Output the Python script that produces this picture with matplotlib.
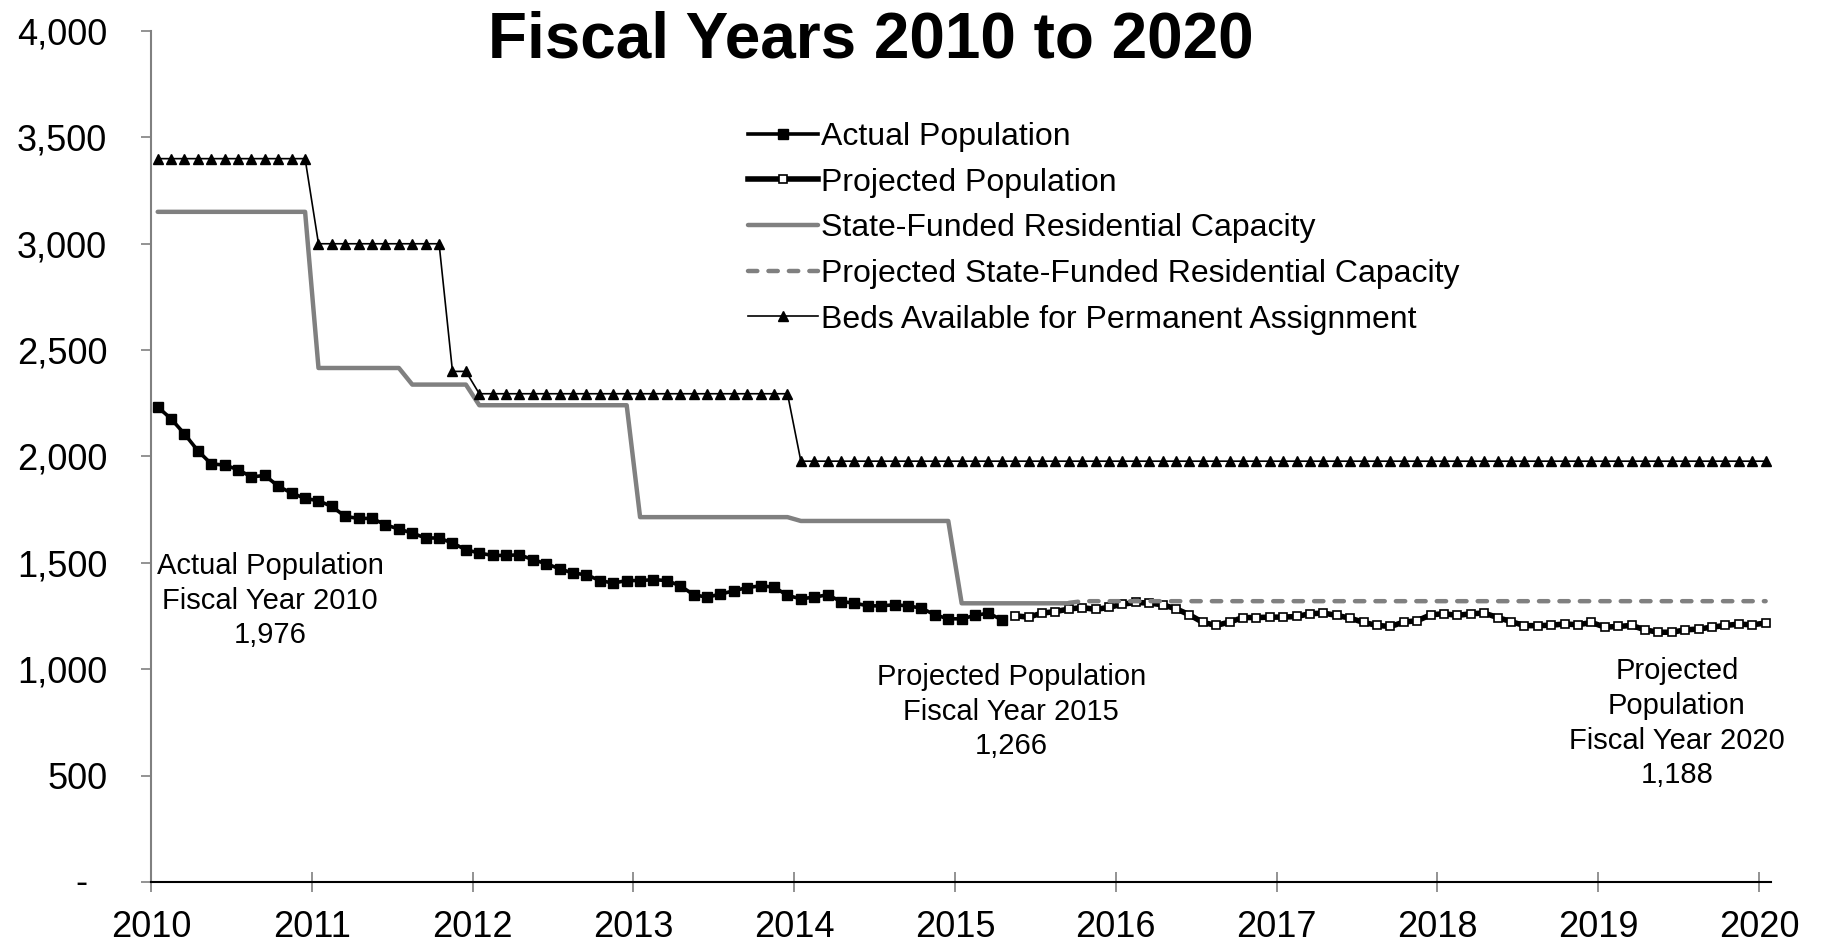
import numpy as np
import matplotlib
matplotlib.use("Agg")
import matplotlib.pyplot as plt
from matplotlib.transforms import blended_transform_factory

plt.rcParams['font.family'] = ['Liberation Sans', 'DejaVu Sans']

# monthly points, Jul 2009 .. Jul 2019 (placed mid-month on a fiscal-year axis)
n_months = 121

# actual population, months 0..63
actual = [2233, 2177, 2106, 2027, 1965, 1960, 1938, 1904, 1911, 1860, 1828, 1803,
          1792, 1765, 1718, 1709, 1709, 1679, 1659, 1640, 1617, 1617, 1593, 1562,
          1546, 1535, 1535, 1538, 1515, 1496, 1472, 1452, 1444, 1417, 1405, 1417,
          1417, 1421, 1417, 1392, 1350, 1339, 1353, 1369, 1384, 1392, 1386, 1347,
          1331, 1339, 1350, 1318, 1311, 1298, 1298, 1303, 1298, 1287, 1256, 1237,
          1237, 1253, 1264, 1232]

# projected population, months 64..120
projected = [1251, 1245, 1264, 1271, 1283, 1290, 1281, 1291, 1306, 1314, 1311, 1303,
             1284, 1256, 1220, 1206, 1222, 1243, 1243, 1245, 1245, 1248, 1261, 1264,
             1253, 1240, 1220, 1206, 1201, 1222, 1228, 1256, 1261, 1253, 1261, 1264,
             1243, 1224, 1205, 1205, 1207, 1213, 1209, 1220, 1198, 1201, 1206, 1185,
             1174, 1174, 1185, 1189, 1198, 1206, 1212, 1209, 1217]

# step series: level values and how many months each level lasts
cap_levels = [3150, 2416, 2338, 2241, 1715, 1697, 1310]
cap_months = [12, 7, 5, 12, 12, 12, 9]            # months 0..68
proj_cap_levels = [1312, 1320]
proj_cap_months = [1, 52]                          # months 68..120
beds_levels = [3400, 3000, 2400, 2295, 1978]
beds_months = [12, 10, 2, 24, 73]                  # months 0..120

year_ticks = list(range(2010, 2021))
y_ticks = [0, 500, 1000, 1500, 2000, 2500, 3000, 3500, 4000]

labels = ["Actual Population", "Projected Population",
          "State-Funded Residential Capacity",
          "Projected State-Funded Residential Capacity",
          "Beds Available for Permanent Assignment"]

notes = [(2010.74, 1322, "Actual Population\nFiscal Year 2010\n1,976"),
         (2015.35, 800, "Projected Population\nFiscal Year 2015\n1,266"),
         (2019.49, 746, "Projected\nPopulation\nFiscal Year 2020\n1,188")]


def month_x(idx):
    return 2010 + (np.asarray(idx) + 0.5) / 12.0


capacity = np.repeat(cap_levels, cap_months)
proj_capacity = np.repeat(proj_cap_levels, proj_cap_months)
beds = np.repeat(beds_levels, beds_months)

x_act = month_x(np.arange(len(actual)))
x_proj = month_x(np.arange(len(actual), len(actual) + len(projected)))
x_cap = month_x(np.arange(len(capacity)))
x_pcap = month_x(np.arange(len(capacity) - 1, len(capacity) - 1 + len(proj_capacity)))
x_beds = month_x(np.arange(n_months))

gray = "#808080"

fig = plt.figure(figsize=(18.24, 9.43), dpi=100)
ax = fig.add_axes([151 / 1824, 61 / 943, 1620 / 1824, 851 / 943])

ax.plot(x_act, actual, color="black", lw=2.6, marker="s", ms=7,
        mfc="black", mec="black", label=labels[0])
ax.plot(x_proj, projected, color="black", lw=4, marker="s", ms=6,
        mfc="white", mec="black", mew=1.2, label=labels[1])
ax.plot(x_cap, capacity, color=gray, lw=3.2, solid_capstyle="round",
        solid_joinstyle="round", label=labels[2])
ax.plot(x_pcap, proj_capacity, color=gray, lw=3.2, dashes=(2.1, 2.5),
        dash_capstyle="round", label=labels[3])
ax.plot(x_beds, beds, color="black", lw=1.2, marker="^", ms=7.5,
        mfc="black", mec="black", label=labels[4])

ax.set_xlim(2010, 2020.075)
ax.set_ylim(0, 4000)
ax.set_xticks(year_ticks)
ax.set_xticklabels([str(y) for y in year_ticks])
ax.set_yticks(y_ticks)
ax.set_yticklabels(["" if v == 0 else f"{v:,}" for v in y_ticks])

for s in ["top", "right"]:
    ax.spines[s].set_visible(False)
ax.spines["left"].set_color(gray)
ax.spines["left"].set_linewidth(1.5)
ax.spines["bottom"].set_color("black")
ax.spines["bottom"].set_linewidth(1.5)

ax.tick_params(axis="y", direction="out", length=7.5, width=1.2, color=gray,
               labelsize=26, pad=24)
ax.tick_params(axis="x", direction="inout", length=15, width=1.2, color=gray,
               labelsize=26, pad=13)

# accounting-style dash for zero
tr = blended_transform_factory(ax.transAxes, ax.transData)
ax.text(-0.0432, -8, "-", transform=tr, ha="center", va="center", fontsize=26)

for x, y, t in notes:
    ax.text(x, y, t, ha="center", va="center", fontsize=21, linespacing=1.3)

fig.text(871 / 1824, 1 - 58 / 943, "Fiscal Years 2010 to 2020", ha="center",
         va="baseline", fontsize=46, fontweight="bold")

ax.legend(loc="upper left", bbox_to_anchor=(748 / 1824, 1 - 122 / 943),
          bbox_transform=fig.transFigure, frameon=False, fontsize=23,
          handlelength=2.2, handletextpad=0.1, labelspacing=0.49,
          borderpad=0, borderaxespad=0, numpoints=1)

fig.savefig("out.png", dpi=100)
